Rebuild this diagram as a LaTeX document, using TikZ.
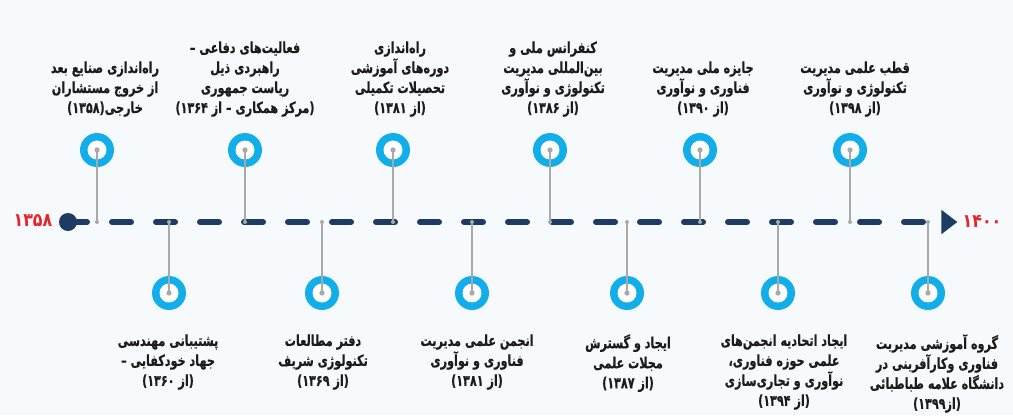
\documentclass[tikz,border=0pt]{standalone}
\usepackage{fontspec}
\TeXXeTstate=1
\newfontfamily\arabicfont[Script=Arabic,FakeStretch=0.73,BoldFeatures={FakeBold=0.4}]{DejaVu Sans}
\newfontfamily\yearfont[Script=Arabic,FakeStretch=0.85]{DejaVu Sans}
\newcommand{\fa}[1]{\beginR #1\endR}
\usetikzlibrary{arrows.meta,shapes.geometric}
\definecolor{bgcol}{HTML}{F7FAFD}
\definecolor{navy}{HTML}{1D3B63}
\definecolor{cyanmark}{HTML}{12AEEA}
\definecolor{stemgrey}{HTML}{A9A9A9}
\definecolor{yearred}{HTML}{E8232A}
\definecolor{txt}{HTML}{1C1C1C}
\tikzset{
  marker/.style={circle, fill=cyanmark, minimum size=25.5pt, inner sep=0pt,
    path picture={
      \fill[white] (path picture bounding box.center) circle (7.1pt);
    }},
  hub/.style={circle, fill=stemgrey, minimum size=4pt, inner sep=0pt},
  foot/.style={circle, fill=stemgrey, minimum size=3pt, inner sep=0pt},
  stem/.style={stemgrey, line width=1.25pt},
  label/.style={align=center, inner sep=0pt, text=txt,
    font=\arabicfont\bfseries\fontsize{11.5}{15}\selectfont},
  toplabel/.style={label, anchor=south},
  botlabel/.style={label, anchor=north},
  timeline/.style={navy, line width=4.5pt, line cap=round, dash pattern=on 14.25pt off 18.75pt},
  yearlab/.style={text=yearred, inner sep=0pt, font=\yearfont\bfseries\fontsize{14}{16}\selectfont},
}
\begin{document}
\begin{tikzpicture}[x=0.75pt, y=-0.75pt]
\fill[bgcol] (0,0) rectangle (1013,415);
\useasboundingbox (0,0) rectangle (1013,415);

% timeline
\node[circle, fill=navy, minimum size=13.5pt, inner sep=0pt] (start) at (68,222) {};
\coordinate (end) at (944,222);
\draw[timeline] (start.center) -- (end);
\node[isosceles triangle, isosceles triangle apex angle=75, fill=navy, minimum height=12pt, inner sep=0pt, anchor=west] (tip) at (941,222) {};
\node[yearlab] (y1) at (33,221) {\fa{۱۳۵۸}};
\node[yearlab] (y2) at (982,221) {\fa{۱۴۰۰}};

% top markers
\foreach \n/\x in {t1/97, t2/245, t3/393, t4/550, t5/700, t6/850} {
  \node[marker] (\n) at (\x,150) {};
  \node[foot] (\n e) at (\x,222) {};
  \draw[stem] (\n.center) -- (\n e.center);
  \node[hub] (\n h) at (\n.center) {};
}
% bottom markers
\foreach \n/\x in {b1/169, b2/322, b3/472, b4/627, b5/778, b6/928} {
  \node[marker] (\n) at (\x,293) {};
  \node[foot] (\n e) at (\x,222) {};
  \draw[stem] (\n e.center) -- (\n.center);
  \node[hub] (\n h) at (\n.center) {};
}

% top labels
\node[toplabel] (lt1) at (105,117) {\fa{راه‌اندازی صنایع بعد}\\\fa{از خروج مستشاران}\\\fa{خارجی(۱۳۵۸)}};
\node[toplabel] (lt2) at (245,117) {\fa{فعالیت‌های دفاعی –}\\\fa{راهبردی ذیل}\\\fa{ریاست جمهوری}\\\fa{(مرکز همکاری – از ۱۳۶۴)}};
\node[toplabel] (lt3) at (400,117) {\fa{راه‌اندازی}\\\fa{دوره‌های آموزشی}\\\fa{تحصیلات تکمیلی}\\\fa{(از ۱۳۸۱)}};
\node[toplabel] (lt4) at (553,117) {\fa{کنفرانس ملی و}\\\fa{بین‌المللی مدیریت}\\\fa{تکنولوژی و نوآوری}\\\fa{(از ۱۳۸۶)}};
\node[toplabel] (lt5) at (703,117) {\fa{جایزه ملی مدیریت}\\\fa{فناوری و نوآوری}\\\fa{(از ۱۳۹۰)}};
\node[toplabel] (lt6) at (855,117) {\fa{قطب علمی مدیریت}\\\fa{تکنولوژی و نوآوری}\\\fa{(از ۱۳۹۸)}};

% bottom labels
\node[botlabel] (lb1) at (168,334) {\fa{پشتیبانی مهندسی}\\\fa{جهاد خودکفایی –}\\\fa{(از ۱۳۶۰)}};
\node[botlabel] (lb2) at (323,334) {\fa{دفتر مطالعات}\\\fa{تکنولوژی شریف}\\\fa{(از ۱۳۶۹)}};
\node[botlabel] (lb3) at (477,334) {\fa{انجمن علمی مدیریت}\\\fa{فناوری و نوآوری}\\\fa{(از ۱۳۸۱)}};
\node[botlabel] (lb4) at (628,334) {\fa{ایجاد و گسترش}\\\fa{مجلات علمی}\\\fa{(از ۱۳۸۷)}};
\node[botlabel] (lb5) at (784,334) {\fa{ایجاد اتحادیه انجمن‌های}\\\fa{علمی حوزه فناوری،}\\\fa{نوآوری و تجاری‌سازی}\\\fa{(از ۱۳۹۴)}};
\node[botlabel] (lb6) at (937,334) {\fa{گروه آموزشی مدیریت}\\\fa{فناوری وکارآفرینی در}\\\fa{دانشگاه علامه طباطبائی}\\\fa{(از۱۳۹۹)}};
\end{tikzpicture}
\end{document}
